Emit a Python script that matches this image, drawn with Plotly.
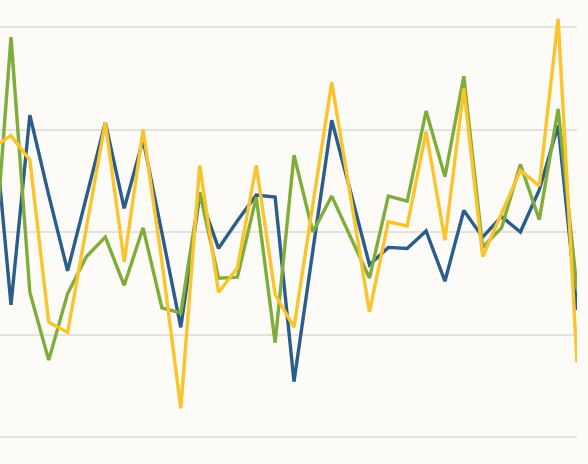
import plotly.graph_objects as go

x_index = list(range(32))

blue_values = [32.7, 12.9, 31.4, 23.6, 16.2, 23.4, 30.7, 22.3, 29.0, 19.9, 10.7, 23.6,
               18.4, 21.1, 23.6, 23.4, 5.4, 18.2, 30.9, 23.9, 16.8, 18.5, 18.4, 20.1,
               15.2, 22.1, 19.5, 21.5, 20.0, 24.1, 30.4, 12.4]
green_values = [14.5, 39.0, 14.1, 7.5, 14.0, 17.6, 19.5, 14.8, 20.4, 12.6, 12.1, 23.9,
                15.5, 15.6, 23.4, 9.2, 27.5, 20.0, 23.5, 19.5, 15.5, 23.5, 23.0, 31.8,
                25.4, 35.2, 18.5, 20.4, 26.6, 21.2, 32.0, 14.4]
yellow_values = [28.2, 29.4, 27.0, 11.2, 10.2, 20.4, 30.7, 17.1, 30.0, 17.1, 2.8, 26.5,
                 14.1, 16.5, 26.5, 13.9, 10.7, 22.7, 34.6, 23.4, 12.2, 21.0, 20.6, 29.8,
                 19.2, 34.0, 17.6, 21.8, 26.0, 24.5, 40.8, 7.3]
y_ticks = [0, 10, 20, 30, 40]

series = [
    ("Blue", blue_values, "#2b5d8c"),
    ("Green", green_values, "#80ad3a"),
    ("Yellow", yellow_values, "#fbc42c"),
]

fig = go.Figure()
for name, vals, color in series:
    fig.add_trace(go.Scatter(x=x_index, y=vals, mode="lines", name=name,
                             line=dict(color=color, width=3.4)))

bg = "#fcfbf7"
fig.update_layout(
    width=588, height=464,
    margin=dict(l=0, r=11, t=0, b=0),
    paper_bgcolor=bg, plot_bgcolor=bg,
    showlegend=False,
    xaxis=dict(range=[0.417, 31], showgrid=False, zeroline=False, showline=False,
               showticklabels=False, ticks=""),
    yaxis=dict(range=[-2.634, 42.634], tickvals=y_ticks, showgrid=True,
               gridcolor="#e4e2dd", gridwidth=2, zeroline=False, showline=False,
               showticklabels=False, ticks=""),
)

fig.write_html(
    "out.html",
    config={"displayModeBar": False},
    post_script="document.body.style.margin='0';document.body.style.background='#fcfbf7';",
)
